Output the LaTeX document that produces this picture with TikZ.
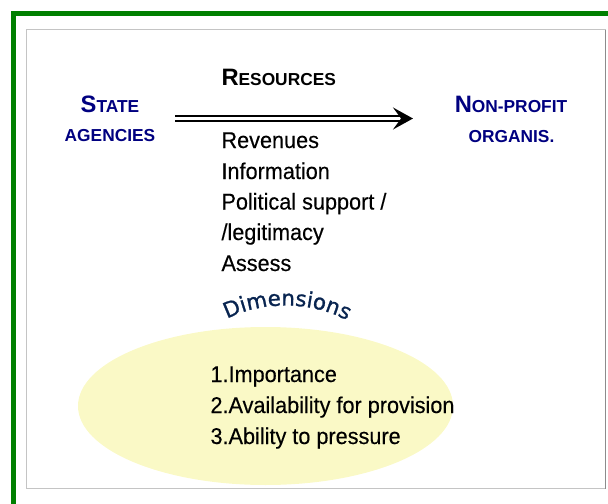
\documentclass[tikz,border=0pt]{standalone}
\usepackage{fontspec}
\setmainfont{Liberation Sans}
\newfontfamily\listfont[FakeStretch=0.95,FakeBold=0.3]{Liberation Sans}
\newfontfamily\archfont[FakeBold=1.2]{DejaVu Sans}
\usetikzlibrary{arrows.meta,decorations.text}

\definecolor{framegreen}{RGB}{0,128,0}
\definecolor{agencynavy}{RGB}{0,0,128}
\definecolor{archnavy}{RGB}{8,36,80}
\definecolor{ovalyellow}{RGB}{250,249,198}

\tikzset{every picture/.style={line width=0.75pt}}
\tikzset{
  headtext/.style={font=\bfseries, inner sep=0.75pt, color=agencynavy},
  listtext/.style={font=\listfont\fontsize{17.1}{20}\selectfont, inner sep=0.75pt},
}
\newcommand{\capfirst}[2]{{\fontsize{17.8}{20}\selectfont #1}{\fontsize{13}{16}\selectfont #2}}
\newcommand{\capsmall}[1]{{\fontsize{13}{16}\selectfont #1}}

\begin{document}
\begin{tikzpicture}[x=0.75pt,y=0.75pt,yscale=-1,xscale=1]
        \useasboundingbox (0,0) rectangle (608,504);
        \clip (0,0) rectangle (608,504);

        %Frame
        \draw [color=framegreen, line width=3.75pt] (13.5,13.5) rectangle (640,540) ;
        %Shape: Rectangle
        \draw [color={rgb, 255:red, 196; green, 196; blue, 196 }, line width=0.9pt] (26.5,29.5) rectangle (605.5,488.5) ;
        \draw [color={rgb, 255:red, 140; green, 140; blue, 140 }, line width=1pt] (605.5,29.5) -- (605.5,488.5) ;

        %Shape: Ellipse
        \fill [color=ovalyellow] (265.5,406) ellipse [x radius=187.5, y radius=79] ;

        % Text Node
        \node [headtext, anchor=base] (state) at (110,112) {\capfirst{S}{TATE}};
        % Text Node
        \node [headtext, anchor=base] (agencies) at (110,141) {\capsmall{AGENCIES}};
        % Text Node
        \node [headtext, anchor=base] (nonprofit) at (511,112) {\capfirst{N}{ON-PROFIT}};
        % Text Node
        \node [headtext, anchor=base] (organis) at (511.5,142) {\capsmall{ORGANIS.}};
        % Text Node
        \node [headtext, color=black, anchor=base west] (resources) at (220,85) {\capfirst{R}{ESOURCES}};

        %Double Arrow
        \coordinate (flow-start) at (175,118.5);
        \coordinate (flow-end) at (413,118.5);
        \draw [double, double distance=2.8pt, line width=1.3pt, -{Stealth[length=15pt,width=16.5pt,inset=6pt]}] (flow-start) -- (flow-end) ;

        % Text Node
        \node [listtext, anchor=base west] (rev) at (220,148) {Revenues};
        % Text Node
        \node [listtext, anchor=base west] (info) at (220,179) {Information};
        % Text Node
        \node [listtext, anchor=base west] (polit) at (220,209.5) {Political support /};
        % Text Node
        \node [listtext, anchor=base west] (legit) at (220,240) {/legitimacy};
        % Text Node
        \node [listtext, anchor=base west] (assess) at (220,271) {Assess};

        %Curved Text
        \begin{scope}[yscale=-1]
        \path [decorate, decoration={text along path, text align=center,
            text={|\archfont\fontsize{16}{19}\selectfont\color{archnavy}|Dimensions}}]
            (218,-324) .. controls (257,-299) and (317,-299) .. (356,-326) ;
        \end{scope}

        % Text Node
        \node [listtext, anchor=base west] (dim1) at (209,382) {1.Importance};
        % Text Node
        \node [listtext, anchor=base west] (dim2) at (209,413) {2.Availability for provision};
        % Text Node
        \node [listtext, anchor=base west] (dim3) at (209,444) {3.Ability to pressure};
\end{tikzpicture}
\end{document}
